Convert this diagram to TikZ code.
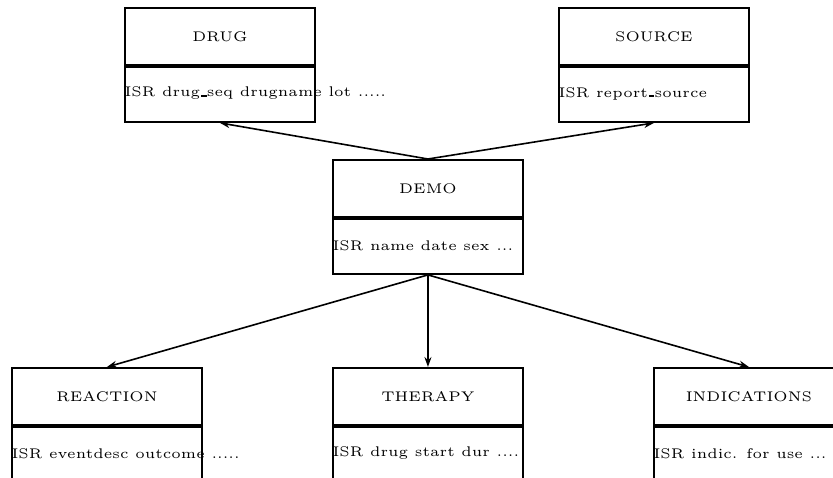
\documentclass[tikz,border=0pt]{standalone}
\usetikzlibrary{arrows.meta}
\tikzset{
  sect/.style={draw, line width=1.9pt, minimum width=190pt, minimum height=57pt, inner sep=0pt, anchor=north west},
  divider/.style={line width=3.2pt},
  lbl/.style={font=\tiny, scale=2.8, inner sep=0pt},
  arr/.style={line width=1.6pt, -{Stealth[length=10pt,width=7pt]}}
}
\newcommand\usc{\leavevmode\kern.06em\vbox{\hrule width.4em height .7pt}\kern.02em}
\newcommand\dbbox[5]{%
  \node[sect] (#1T) at (#2,#3) {};
  \node[sect] (#1B) at (#2,#3+57) {};
  \node[lbl] (#1Tl) at (#1T.center) {#4};
  \node[lbl, anchor=west] (#1Bl) at (#1B.west) {#5};
  \draw[divider] (#1T.south west) -- (#1T.south east);
}
\begin{document}
\begin{tikzpicture}[x=1pt,y=-1pt]
  \useasboundingbox (0,0) rectangle (833,477);
  \clip (0,0) rectangle (833,477);
  \dbbox{drug}{124}{7}{DRUG}{ISR drug\usc seq drugname lot .....}
  \dbbox{source}{558}{7}{SOURCE}{ISR report\usc source}
  \dbbox{demo}{332}{159}{DEMO}{ISR name date sex ...}
  \dbbox{reaction}{11}{367}{REACTION}{ISR eventdesc outcome .....}
  \dbbox{therapy}{332}{367}{THERAPY}{ISR drug start dur ....}
  \dbbox{ind}{653}{367}{INDICATIONS}{ISR indic. for use ...}
  \draw[arr] (demoT.north) -- (drugB.south);
  \draw[arr] (demoT.north) -- (sourceB.south);
  \draw[arr] (demoB.south) -- (reactionT.north);
  \draw[arr] (demoB.south) -- (therapyT.north);
  \draw[arr] (demoB.south) -- (indT.north);
\end{tikzpicture}
\end{document}
